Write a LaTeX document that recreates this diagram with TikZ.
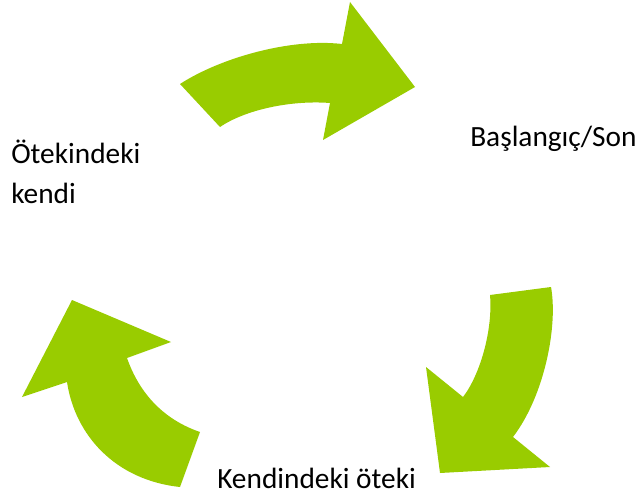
\documentclass[tikz,border=0pt]{standalone}
\usepackage{fontspec}
\setmainfont{Carlito}
\usepackage{tikz}

\definecolor{leafgreen}{RGB}{153,204,0}

\tikzset{
    cyclearrow/.style={fill=leafgreen, draw=none},
    steplabel/.style={anchor=base west, inner sep=0pt, font=\fontsize{22}{30.5}\selectfont, align=left}
}

\begin{document}
\begin{tikzpicture}[x=0.75pt, y=-0.75pt]
    % The frame
    \useasboundingbox (0, 0) rectangle (638, 502);

    % Top arrow, towards the start
    \fill[cyclearrow] (180, 84) .. controls (220, 58) and (290, 38) .. (342, 44)
        -- (350, 2) -- (415, 87) -- (323, 140) -- (330, 103)
        .. controls (290, 100) and (245, 110) .. (220, 127) -- cycle;

    % Right arrow, going down
    \fill[cyclearrow] (490, 295) -- (551, 287)
        .. controls (558, 325) and (545, 395) .. (513, 437)
        -- (550, 467) -- (440, 473) -- (426, 367) -- (463, 397)
        .. controls (480, 375) and (493, 330) .. cycle;

    % Left arrow, going up
    \fill[cyclearrow] (72, 300) -- (171, 342) -- (127, 358)
        .. controls (140, 395) and (165, 420) .. (200, 432)
        -- (180, 487) .. controls (115, 480) and (75, 435) .. (67, 382)
        -- (22, 397) -- cycle;

    % The three steps (base of a two-line node is its last line)
    \node[steplabel] (start) at (470, 147) {Başlangıç/Son};
    \node[steplabel] (self) at (217, 488) {Kendindeki öteki};
    \node[steplabel] (other) at (11, 204) {Ötekindeki\\kendi};
\end{tikzpicture}
\end{document}
